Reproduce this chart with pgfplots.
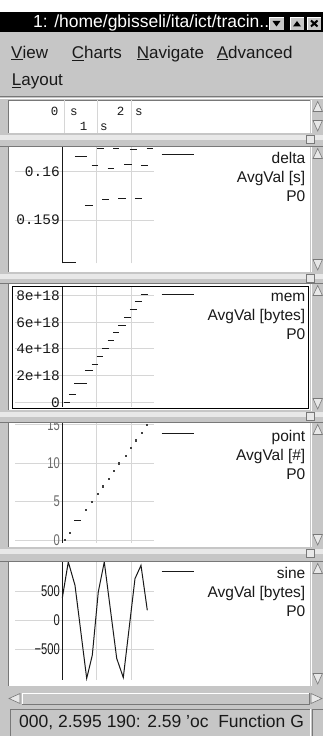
\documentclass[border=0pt]{standalone}
\usepackage{pgfplots}
\pgfplotsset{compat=1.18}
\usepackage{fontspec}
\setmainfont{Liberation Sans}
\newfontfamily\monof{Liberation Mono}
\newfontfamily\narrowf[FakeStretch=0.72]{Liberation Sans}

\definecolor{gui}{RGB}{198,198,198}
\definecolor{guidark}{RGB}{120,120,120}
\definecolor{guilight}{RGB}{232,232,232}
\definecolor{gridc}{RGB}{214,214,214}
\definecolor{ink}{RGB}{25,25,25}
\definecolor{tickgray}{RGB}{105,105,105}

\pgfplotsset{panel/.style={
  scale only axis, anchor=south west, width=139pt,
  xmin=-1.363, xmax=2.643,
  axis line style={draw=none}, major tick style={draw=none},
  xtick={1,2}, xticklabels={},
  grid=major, major grid style={gridc, line width=1pt},
  clip=false,
  scaled y ticks=false,
  /pgf/number format/assume math mode=true,
  yticklabel style={anchor=east, inner sep=0pt, xshift=45pt},
  extra x ticks={0}, extra x tick labels={},
  extra x tick style={grid=major, major grid style={ink, line width=1.4pt}},
  unbounded coords=jump,
}}

\newcommand{\legendblock}[5]{% linepy, baseline1, name, unit
  \draw[ink, line width=1pt] (161.7,736-#1) -- (194.3,736-#1);
  \node[anchor=base east, inner sep=0pt, ink, font=\fontsize{15.5}{18}\selectfont] at (305.5,736-#2) {#3};
  \node[anchor=base east, inner sep=0pt, ink, font=\fontsize{15.5}{18}\selectfont] at (305.5,736-#2-19) {#4};
  \node[anchor=base east, inner sep=0pt, ink, font=\fontsize{15.5}{18}\selectfont] at (305.5,736-#2-38) {#5};
}

\newcommand{\splitter}[2]{%
  \fill[gui] (0,736-#2) rectangle (323,736-#1);
  \fill[guilight] (0,736-#1-7) rectangle (323,736-#1-2.5);
  \draw[guidark, line width=0.8pt] (0,736-#2+0.5) -- (323,736-#2+0.5);
  \filldraw[fill=guilight, draw=guidark, line width=0.6pt] (306.5,736-#1-10) rectangle (314.5,736-#1-2.5);
}

\newcommand{\vscroll}[2]{%
  \fill[gui] (310,736-#2) rectangle (323,736-#1);
  \draw[white, line width=0.8pt] (311,736-#2) -- (311,736-#1);
  \filldraw[fill=guilight, draw=guidark, line width=0.6pt] (313,736-#1-11.5) -- (317.7,736-#1-1.5) -- (322.4,736-#1-11.5) -- cycle;
  \filldraw[fill=guilight, draw=guidark, line width=0.6pt] (313,736-#2+12.5) -- (317.7,736-#2+2) -- (322.4,736-#2+12.5) -- cycle;
}

\begin{document}
\begin{tikzpicture}[x=1pt,y=1pt]
\useasboundingbox (0,0) rectangle (323,736);
\fill[gui] (0,0) rectangle (323,736);
% top strip and title bar
\fill[white] (0,736-12.5) rectangle (323,736);
\fill[black] (0,736-32.5) rectangle (323,736-12.5);
\node[anchor=base west, inner sep=0pt, white, font=\fontsize{17.5}{20}\selectfont] at (33,736-28) {1: /home/gbisseli/ita/ict/tracin..};
\foreach \a/\b in {269.5/283.5, 290.5/303.5, 307.5/321}{
  \fill[gui] (\a,736-30) rectangle (\b,736-17);
  \draw[white, line width=0.6pt] (\a,736-30) -- (\a,736-17) -- (\b,736-17);
}
\fill[black] (272.5,736-21) -- (280.5,736-21) -- (276.5,736-26.5) -- cycle;
\fill[black] (293,736-26.5) -- (301,736-26.5) -- (297,736-21) -- cycle;
\draw[black, line width=2pt] (311,736-20.5) -- (317.5,736-26.5) (311,736-26.5) -- (317.5,736-20.5);
% menu
\begin{scope}[every node/.style={anchor=base west, inner sep=0pt, ink, font=\fontsize{17}{20}\selectfont}]
\node at (11,736-58.3) {\underline{V}iew};
\node at (71.7,736-58.3) {\underline{C}harts};
\node at (136.7,736-58.3) {\underline{N}avigate};
\node at (216.7,736-58.3) {\underline{A}dvanced};
\node at (11.7,736-86) {\underline{L}ayout};
\end{scope}
\draw[guidark, line width=1pt] (0,736-96.5) -- (323,736-96.5);
\draw[white, line width=0.8pt] (0,736-98) -- (323,736-98);

% ruler panel
\fill[white] (8,736-133) rectangle (310,736-100);
\draw[guidark, line width=0.8pt] (8.4,736-133) -- (8.4,736-100.4) -- (310,736-100.4);
\foreach \x in {64.3,97.7,131.7}{\draw[gridc, line width=1pt] (\x,736-133) -- (\x,736-100.5);}
\begin{scope}[every node/.style={inner sep=0pt, ink, font=\monof\fontsize{12.5}{14}\selectfont}]
\node[anchor=base east] at (58.5,736-115.7) {0};
\node[anchor=base west] at (70,736-115.7) {s};
\node[anchor=base east] at (124.5,736-115.7) {2};
\node[anchor=base west] at (135,736-115.7) {s};
\node[anchor=base east] at (87.5,736-131) {1};
\node[anchor=base west] at (100,736-131) {s};
\end{scope}

% white panels
\foreach \t/\b in {147/272, 284/411, 423/547, 562/686}{
  \fill[white] (8,736-\b) rectangle (310,736-\t);
  \draw[guidark, line width=0.8pt] (8.4,736-\b) -- (8.4,736-\t);
}

% ---------------- delta ----------------
\begin{axis}[panel, at={(15pt,472.7pt)}, height=116.3pt,
  ymin=0.158104, ymax=0.160511,
  ytick={0.159,0.16}, yticklabels={0.159,0.16},
  yticklabel style={font=\monof\fontsize{14.5}{16}\selectfont, ink}]
\addplot[ink, line width=1pt] coordinates {
 (0,0.15812) (0.386,0.15812) (0.386,nan)
 (0.366,0.16031) (0.703,0.16031) (0.703,nan)
 (0.654,0.15929) (0.876,0.15929) (0.876,nan)
 (0.847,0.16012) (1.037,0.16012) (1.037,nan)
 (1.009,0.16049) (1.202,0.16049) (1.202,nan)
 (1.153,0.15943) (1.346,0.15943) (1.346,nan)
 (1.308,0.16007) (1.499,0.16007) (1.499,nan)
 (1.470,0.16049) (1.643,0.16049) (1.643,nan)
 (1.614,0.15945) (1.836,0.15945) (1.836,nan)
 (1.787,0.16014) (2.000,0.16014) (2.000,nan)
 (1.951,0.16045) (2.144,0.16045) (2.144,nan)
 (2.095,0.15945) (2.305,0.15945) (2.305,nan)
 (2.268,0.16012) (2.461,0.16012) (2.461,nan)
 (2.432,0.16049) (2.605,0.16049)
};
\end{axis}
\legendblock{155}{164}{delta}{AvgVal [s]}{P0}

% ---------------- mem ----------------
\begin{axis}[panel, at={(15pt,329.3pt)}, height=119.7pt,
  ymin=-0.33e18, ymax=8.653e18,
  ytick={0,2e18,4e18,6e18,8e18}, yticklabels={0,2e+18,4e+18,6e+18,8e+18},
  yticklabel style={font=\monof\fontsize{14.5}{16}\selectfont, ink}]
\addplot[ink, line width=1pt] coordinates {
 (0.058,0) (0.222,0) (0.222,nan)
 (0.193,0.62e18) (0.386,0.62e18) (0.386,nan)
 (0.346,1.43e18) (0.703,1.43e18) (0.703,nan)
 (0.654,2.35e18) (0.876,2.35e18) (0.876,nan)
 (0.847,2.87e18) (1.037,2.87e18) (1.037,nan)
 (0.991,3.47e18) (1.182,3.47e18) (1.182,nan)
 (1.153,4.07e18) (1.346,4.07e18) (1.346,nan)
 (1.308,4.62e18) (1.499,4.62e18) (1.499,nan)
 (1.470,5.22e18) (1.643,5.22e18) (1.643,nan)
 (1.614,5.78e18) (1.827,5.78e18) (1.827,nan)
 (1.787,6.40e18) (1.980,6.40e18) (1.980,nan)
 (1.951,6.98e18) (2.144,6.98e18) (2.144,nan)
 (2.095,7.53e18) (2.305,7.53e18) (2.305,nan)
 (2.268,8.11e18) (2.461,8.11e18)
};
\end{axis}
\legendblock{294.3}{301.7}{mem}{AvgVal [bytes]}{P0}

% ---------------- point ----------------
\begin{axis}[panel, at={(15pt,193pt)}, height=120pt,
  ymin=-0.39, ymax=15.25,
  ytick={0,5,10,15}, yticklabels={0,5,10,15},
  yticklabel style={font=\narrowf\fontsize{15.5}{17}\selectfont, tickgray}]
\addplot[only marks, mark=square*, mark size=0.6pt, black!75] coordinates {
 (0.058,0) (0.222,1) (0.674,4) (0.856,5) (1.009,6) (1.173,7) (1.326,8)
 (1.490,9) (1.634,10) (1.816,11) (1.980,12) (2.124,13) (2.288,14) (2.441,15)
};
\addplot[ink, line width=1pt] coordinates {(0.346,2.5) (0.539,2.5)};
\end{axis}
\legendblock{433.3}{441.7}{point}{AvgVal [\#]}{P0}

% ---------------- sine ----------------
\begin{axis}[panel, at={(15pt,56pt)}, height=118pt,
  ymin=-1027, ymax=1000,
  ytick={-500,0,500}, yticklabels={−500,0,500},
  yticklabel style={font=\narrowf\fontsize{15.5}{17}\selectfont, ink}]
\addplot[ink, line width=1pt] coordinates {
 (0,382) (0.173,1000) (0.366,600) (0.703,-1000) (0.865,-600) (1.037,485)
 (1.210,1000) (1.568,-655) (1.758,-985) (2.095,714) (2.268,942) (2.450,171)
};
\end{axis}
\legendblock{571.7}{578.3}{sine}{AvgVal [bytes]}{P0}

% splitters (drawn last so they crop overflowing labels)
\splitter{133}{147}
\splitter{272}{284}
\splitter{410}{423}
\splitter{547}{562}

% vertical scrollbars
\vscroll{100}{133}
\vscroll{147}{272}
\vscroll{284}{411}
\vscroll{423}{547}
\vscroll{562}{686}

% mem selection frame
\draw[black, line width=1pt] (12,736-409) rectangle (308,736-287);

% horizontal scrollbar
\fill[gui] (8,736-705) rectangle (323,736-692);
\draw[white, line width=0.8pt] (22,736-704) -- (22,736-693) -- (309,736-693);
\draw[guidark, line width=0.8pt] (22,736-704) -- (309,736-704) -- (309,736-693);
\filldraw[fill=guilight, draw=guidark, line width=0.6pt] (9,736-698.5) -- (20,736-693.5) -- (20,736-703.5) -- cycle;
\filldraw[fill=guilight, draw=guidark, line width=0.6pt] (322,736-698.5) -- (311,736-693.5) -- (311,736-703.5) -- cycle;

% status bar
\draw[guidark, line width=0.8pt] (10.4,0) -- (10.4,736-709.4) -- (310,736-709.4);
\draw[white, line width=0.8pt] (310,0) -- (310,736-709.4);
\draw[guidark, line width=0.8pt] (312.4,0) -- (312.4,736-709.4) -- (323,736-709.4);
\node[anchor=base west, inner sep=0pt, ink, font=\fontsize{17.5}{20}\selectfont] at (19,736-727) {000, 2.595 190: 2.59 'oc\ \ Function G};
\end{tikzpicture}
\end{document}
